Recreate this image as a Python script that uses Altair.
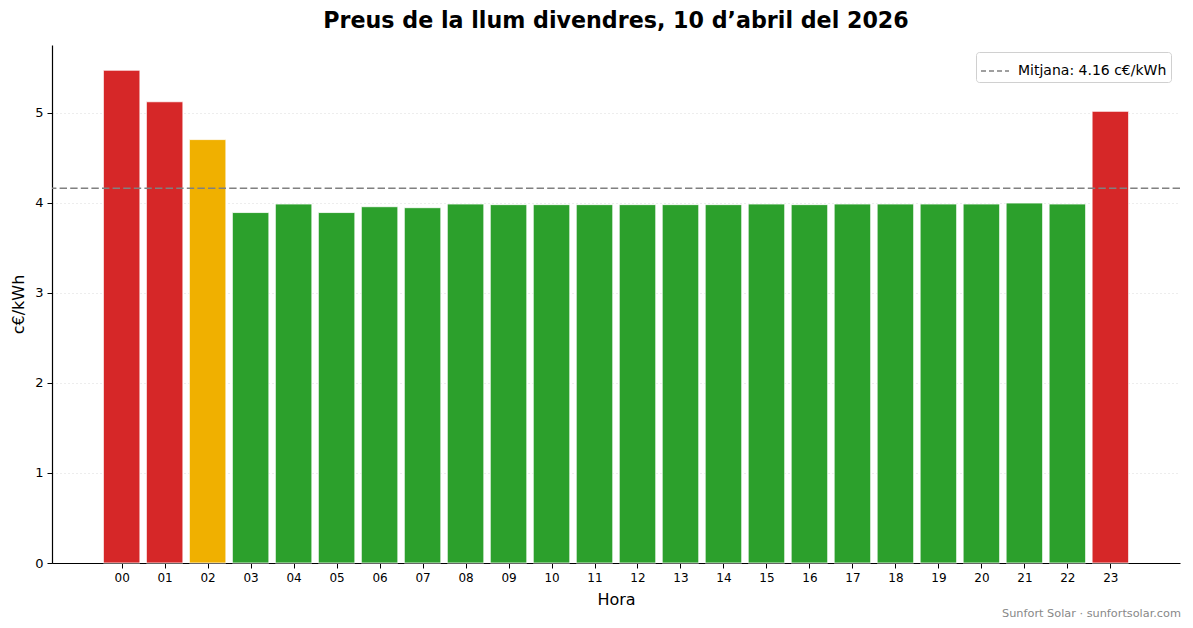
import altair as alt
import pandas as pd

hours = list(range(24))
prices = [5.47, 5.12, 4.70, 3.89, 3.985, 3.89, 3.955, 3.944, 3.985, 3.978,
          3.978, 3.978, 3.978, 3.978, 3.978, 3.985, 3.978, 3.985, 3.985, 3.985,
          3.985, 3.996, 3.985, 5.014]
colors = ["#d62728", "#d62728", "#f0b000"] + ["#2ca02c"] * 20 + ["#d62728"]
mean_price = 4.16
mean_label = "Mitjana: 4.16 c€/kWh"
title_text = "Preus de la llum divendres, 10 d’abril del 2026"
footer_text = "Sunfort Solar · sunfortsolar.com"

df = pd.DataFrame({"hour": hours, "price": prices, "color": colors})
df["x0"] = df["hour"] - 0.425
df["x1"] = df["hour"] + 0.425

FONT = "DejaVu Sans"
xscale = alt.Scale(domain=[-1.62, 24.62], nice=False, zero=False)
yscale = alt.Scale(domain=[0, 5.75], nice=False)

bars = alt.Chart(df).mark_bar(stroke="white", strokeWidth=0.8).encode(
    x=alt.X("x0:Q", scale=xscale,
            axis=alt.Axis(title="Hora", values=hours, grid=False,
                          labelExpr="datum.value < 10 ? '0' + datum.value : '' + datum.value",
                          labelFontSize=12, titleFontSize=16, titleFontWeight="normal",
                          tickSize=5, labelPadding=4, titlePadding=8,
                          domainColor="black", tickColor="black", labelColor="black",
                          titleColor="black", labelFont=FONT, titleFont=FONT)),
    x2="x1:Q",
    y=alt.Y("price:Q", scale=yscale,
            axis=alt.Axis(title="c€/kWh", values=[0, 1, 2, 3, 4, 5], format="d", grid=True,
                          gridDash=[1, 3], gridColor="#d0d0d0", gridWidth=0.8,
                          labelFontSize=13, titleFontSize=16, titleFontWeight="normal",
                          tickSize=5, labelPadding=4, titlePadding=8,
                          domainColor="black", tickColor="black", labelColor="black",
                          titleColor="black", labelFont=FONT, titleFont=FONT)),
    y2=alt.datum(0),
    color=alt.Color("color:N", scale=None, legend=None),
)

mean_df = pd.DataFrame({"y": [mean_price], "label": [mean_label]})
rule = alt.Chart(mean_df).mark_rule(strokeDash=[7.4, 3.2], strokeWidth=1.5).encode(
    y=alt.Y("y:Q", scale=yscale),
    color=alt.Color("label:N", scale=alt.Scale(range=["#808080"]),
                    legend=alt.Legend(title=None, orient="none", legendX=924, legendY=7,
                                      symbolType="stroke", symbolStrokeWidth=1.5,
                                      symbolDash=[5, 3], symbolSize=784,
                                      labelFontSize=14, labelFont=FONT, labelColor="black",
                                      labelOffset=8,
                                      fillColor="white", strokeColor="#d0d0d0",
                                      cornerRadius=3, padding=4)),
)

footer = alt.Chart(pd.DataFrame({"t": [footer_text]})).mark_text(
    align="right", baseline="middle", fontSize=11.3, font=FONT, color="#888888"
).encode(text="t:N", x=alt.value(1129), y=alt.value(569))

chart = alt.layer(bars, rule, footer).resolve_scale(color="independent").properties(
    width=1128, height=518,
    title=alt.TitleParams(title_text, fontSize=22.2, font=FONT, fontWeight="bold",
                          anchor="middle", offset=13, color="black"),
    autosize=alt.AutoSizeParams(type="none"),
    padding={"left": 44, "top": 37, "right": 5, "bottom": 62},
).configure_view(stroke=None).configure_axis(domainWidth=1.2)

chart.save("out.html", embed_options={"renderer": "svg", "actions": False})
